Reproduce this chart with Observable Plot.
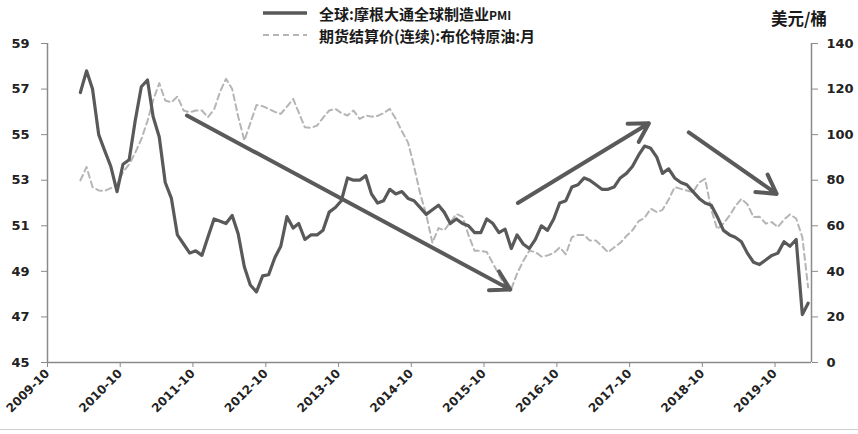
<!DOCTYPE html>
<html><head><meta charset="utf-8">
<script src="https://cdn.jsdelivr.net/npm/d3@7"></script>
<script src="https://cdn.jsdelivr.net/npm/@observablehq/plot@0.6"></script>
<style>
body{margin:0;background:#fff;}
#wrap{position:relative;width:858px;height:434px;overflow:hidden;background:#fff;}
.leg{position:absolute;left:263px;height:20px;display:flex;align-items:center;white-space:nowrap;
  font-family:"Noto Sans CJK SC","Noto Sans",sans-serif;font-weight:bold;font-size:15px;color:#1a1a1a;}
.leg svg{display:block;margin-right:6px;}
.pmi{font-size:12px;}
#unit{position:absolute;left:771px;top:6px;font-family:"Noto Sans CJK SC",sans-serif;font-weight:bold;font-size:16.5px;color:#1a1a1a;white-space:nowrap;}
#frame{position:absolute;left:0;top:429px;width:858px;height:1px;background:#cfcfcf;}
</style></head><body>
<div id="wrap">
  <div id="chart"></div>
  <div class="leg" style="top:3px"><svg width="50" height="20"><line x1="0" x2="44" y1="10" y2="10" stroke="#595959" stroke-width="3.5"/></svg><span>全球:摩根大通全球制造业<span class="pmi">PMI</span></span></div>
  <div class="leg" style="top:25px"><svg width="50" height="20"><line x1="0" x2="44" y1="10" y2="10" stroke="#b5b5b5" stroke-width="2" stroke-dasharray="6,4"/></svg><span>期货结算价(连续):布伦特原油:月</span></div>
  <div id="unit">美元/桶</div>
  <div id="frame"></div>
</div>
<script>
// ---- data ----
const seriesNames = ["全球:摩根大通全球制造业PMI", "期货结算价(连续):布伦特原油:月"];
const firstMonth = "2010-03"; // monthly data, 2010-03 .. 2020-03
const pmiValues = [
  56.85,57.8,57.0,55.0,54.3,53.6,52.5,53.7,53.9,55.6,           // 2010-03..12
  57.1,57.4,55.8,54.9,52.9,52.2,50.6,50.2,49.8,49.9,49.7,50.5,  // 2011
  51.3,51.2,51.1,51.45,50.65,49.2,48.4,48.1,48.8,48.85,49.6,50.1, // 2012
  51.4,50.9,51.1,50.4,50.6,50.6,50.8,51.6,51.8,52.1,53.1,53.0,  // 2013
  53.0,53.2,52.4,52.0,52.1,52.6,52.4,52.5,52.2,52.1,51.8,51.5,  // 2014
  51.7,51.9,51.6,51.1,51.3,51.1,51.0,50.7,50.7,51.3,51.1,50.7,  // 2015
  50.85,50.0,50.6,50.2,50.0,50.4,51.0,50.8,51.3,52.0,52.1,52.7, // 2016
  52.8,53.1,53.0,52.8,52.6,52.6,52.7,53.1,53.3,53.6,54.1,54.5,  // 2017
  54.4,54.0,53.3,53.5,53.1,52.9,52.8,52.5,52.2,52.0,51.9,51.4,  // 2018
  50.8,50.6,50.5,50.3,49.8,49.4,49.3,49.5,49.7,49.8,50.3,50.1,  // 2019
  50.4,47.1,47.6                                                // 2020
];
const brentValues = [
  79.9,85.8,77,75.5,75.3,76.5,78,83.5,87,92,                      // 2010-03..12
  98,106,115,122.6,115,114.2,116.7,110.6,109.8,110.6,110.6,107.6, // 2011
  111,119,124.5,120,108,97.4,105,113,112.5,111.3,110,109.1,       // 2012
  112.3,115.7,109.8,103.2,103,104,107.4,110.6,111.3,109.5,108.4,110.6, // 2013
  106.9,108.4,107.9,108.2,109.4,111.3,107,101.5,96.5,86,74,65,   // 2014
  52.5,59,58,61.5,65.2,64,56,49,49,48.5,43.5,38.5,               // 2015
  33.5,32.3,39,44.5,49,48.5,46.5,47,48,50.5,47.5,55,             // 2016
  56,56,53.5,53.5,51,48.4,50.5,52.5,55.5,58,62,63.5,             // 2017
  67.5,66,67,71.5,77,76.2,75.5,74.7,79,80.6,67,58.5,             // 2018
  61,64.5,68.5,71.8,69.5,63.8,64,61,61.6,59.4,62.7,65,           // 2019
  63.2,55,33                                                     // 2020
];
const xTickLabels = ["2009-10","2010-10","2011-10","2012-10","2013-10","2014-10","2015-10","2016-10","2017-10","2018-10","2019-10"];
const xDomain = ["2009-10-01","2020-04-01"];
const pmiTicks = [45,47,49,51,53,55,57,59];
const brentTicks = [0,20,40,60,80,100,120,140];
// trend arrows (date, PMI-axis value)
const arrowStart = [["2011-09-01",55.84],["2016-03-19",52.0],["2018-07-25",55.1]];
const arrowEnd   = [["2016-02-10",48.2],["2018-01-06",55.5],["2019-10-09",52.4]];

// ---- build tables ----
const t0 = d3.utcParse("%Y-%m")(firstMonth);
const monthDate = i => d3.utcDay.offset(d3.utcMonth.offset(t0, i), 14);
const pmi = pmiValues.map((v, i) => ({date: monthDate(i), value: v}));
const brent = brentValues.map((v, i) => ({date: monthDate(i), value: v}));
// right axis (0..140) mapped onto left axis (45..59)
const toLeft = v => 45 + v * (59 - 45) / 140;
const parseM = d3.utcParse("%Y-%m");
const parseD = d3.utcParse("%Y-%m-%d");
const xTicks = xTickLabels.map(parseM);
const arrows = arrowStart.map((s, i) => ({x1: parseD(s[0]), y1: s[1], x2: parseD(arrowEnd[i][0]), y2: arrowEnd[i][1]}));

const axisColor = "#8a8a8a";
const textColor = "#222";

const chart = Plot.plot({
  width: 858, height: 434,
  marginLeft: 47, marginRight: 47, marginTop: 43, marginBottom: 72,
  style: {fontFamily: "DejaVu Sans, sans-serif", fontSize: "12px", fontWeight: "bold", background: "white", overflow: "visible"},
  x: {type: "utc", domain: xDomain.map(parseD)},
  y: {domain: [45, 59]},
  marks: [
    Plot.line(brent, {x: "date", y: d => toLeft(d.value), stroke: "#b5b5b5", strokeWidth: 2, strokeDasharray: "6,4"}),
    Plot.line(pmi, {x: "date", y: "value", stroke: "#595959", strokeWidth: 3.2, strokeLinejoin: "round"}),
    Plot.arrow(arrows, {x1: "x1", y1: "y1", x2: "x2", y2: "y2", stroke: "#5a5a5a", strokeWidth: 4, headLength: 8, headAngle: 60}),
    Plot.ruleX([xDomain[0]].map(parseD), {stroke: axisColor, strokeWidth: 1.5}),
    Plot.ruleX([xDomain[1]].map(parseD), {stroke: axisColor, strokeWidth: 1.5}),
    Plot.ruleY([45], {stroke: axisColor, strokeWidth: 1.5}),
    Plot.axisY({anchor: "left", ticks: pmiTicks, tickSize: 6, tickPadding: 12, stroke: axisColor, fill: textColor, label: null, fontSize: 13}),
    Plot.axisY({anchor: "right", ticks: brentTicks.map(toLeft), tickFormat: d => String(Math.round((d - 45) * 140 / 14)), tickSize: 6, tickPadding: 9, stroke: axisColor, fill: textColor, label: null, fontSize: 13}),
    Plot.axisX({ticks: xTicks, tickFormat: d3.utcFormat("%Y-%m"), tickRotate: -45, tickSize: 5, tickPadding: 4, stroke: axisColor, fill: textColor, label: null, fontSize: 12})
  ]
});
document.getElementById("chart").appendChild(chart);
</script>
</body></html>
